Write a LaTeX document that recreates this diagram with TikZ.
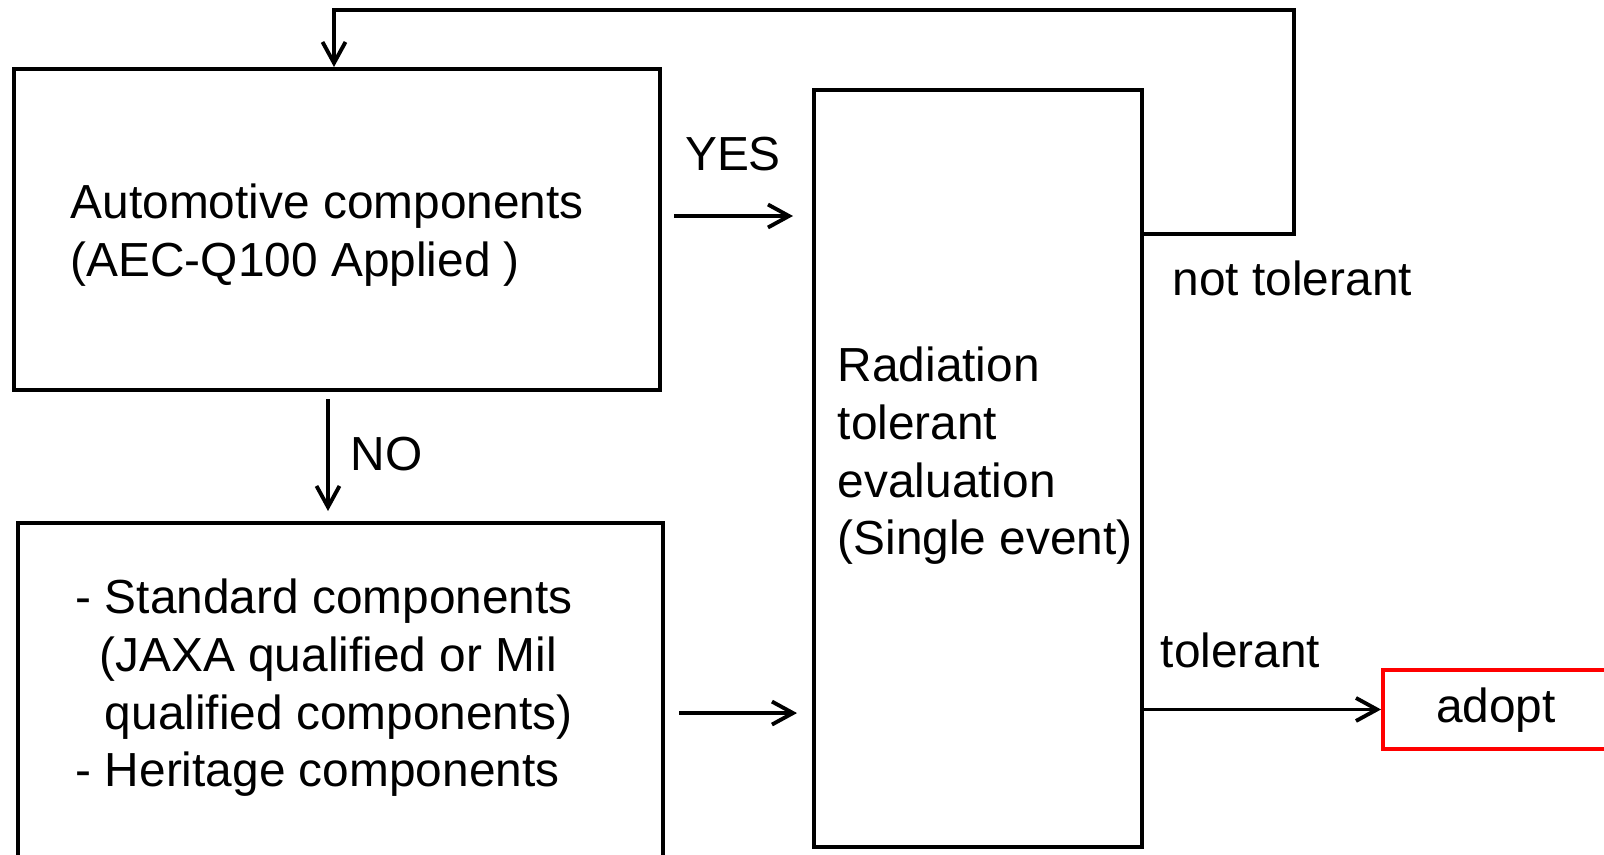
\documentclass[tikz,border=0pt]{standalone}
\usepackage{fontspec}
\setmainfont{Liberation Sans}
\usetikzlibrary{positioning,arrows.meta}

\tikzset{
  box/.style={draw, line width=1.1pt, inner sep=0pt, anchor=north west},
  txt/.style={font=\fontsize{13.6}{16.4}\selectfont, inner sep=0pt, align=left},
  conn/.style={line width=1.1pt, -{Straight Barb[length=2.1mm,width=2.3mm,line width=1.1pt]}}
}

\begin{document}
\begin{tikzpicture}[x=0.01cm, y=-0.01cm]
\useasboundingbox (0,0) rectangle (1604,854);
% boxes
\node[box, minimum width=6.46cm, minimum height=3.21cm] (auto) at (12,67) {};
\node[box, minimum width=6.45cm, minimum height=3.8cm] (std) at (16,521) {};
\node[box, minimum width=3.28cm, minimum height=7.57cm] (rad) at (812,88) {};
\node[box, draw=red, minimum width=2.6cm, minimum height=0.79cm] (adopt) at (1381,668) {};
% texts
\node[txt, anchor=west] (autotxt) at (70,235) {Automotive components\\(AEC-Q100 Applied )};
\node[txt, anchor=west] (stdtxt) at (75,688) {- Standard components\\
  \phantom{-}\,(JAXA qualified or Mil\\
  \phantom{- }qualified components)\\
  - Heritage components};
\node[txt, anchor=west] (radtxt) at (837,456) {Radiation\\tolerant\\evaluation\\(Single event)};
\node[txt] (adopttxt) at (1496,710) {adopt};
\node[txt] (yes) at (733,154) {YES};
\node[txt, anchor=west] (no) at (350,454) {NO};
\node[txt, anchor=west] (nottol) at (1172,278) {not tolerant};
\node[txt, anchor=west] (tol) at (1160,650) {tolerant};
% connectors
\coordinate (loopL) at (334,10);
\coordinate (loopR) at (1294,10);
\coordinate (down) at (328,0);
\coordinate (yesY) at (0,216);
\draw[conn, shorten <=0.12cm, shorten >=0.19cm] (auto.east |- yesY) -- (rad.west |- yesY);
\draw[conn, shorten <=0.07cm, shorten >=0.1cm] (auto.south -| down) -- (std.north -| down);
\draw[conn, shorten <=0.14cm, shorten >=0.15cm] (std.east) -- (std.east -| rad.west);
\draw[conn] ([yshift=-1.46cm]rad.north east) -| (loopR) -| (auto.north -| loopL);
\draw[conn] (rad.east |- adopt.west) -- (adopt.west);
\end{tikzpicture}
\end{document}
